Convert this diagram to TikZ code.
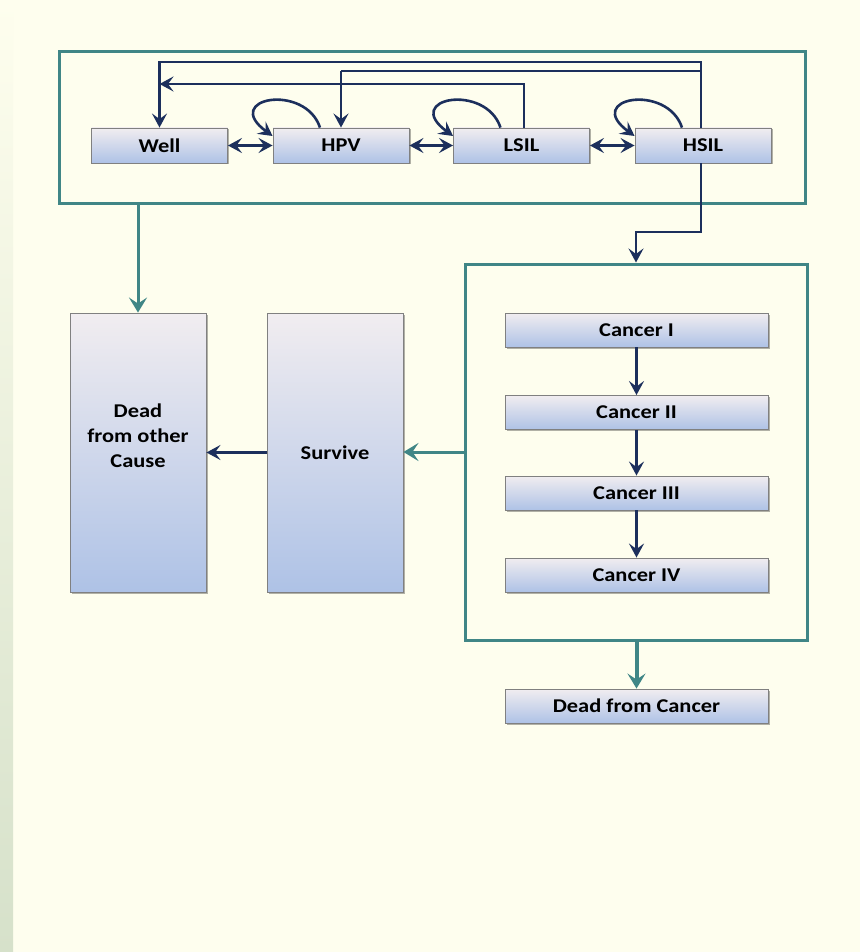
\documentclass[tikz,border=0pt]{standalone}
\usepackage{fontspec}
\setmainfont{Carlito}[FakeStretch=1.15]
\usepackage{tikz}
\usetikzlibrary{arrows.meta, positioning, calc, shadows}
\definecolor{bgc}{HTML}{FEFEEE}
\definecolor{lfc}{HTML}{D6E1CA}
\definecolor{tlc}{HTML}{408686}
\definecolor{nvc}{HTML}{1C2F5C}
\definecolor{bxt}{HTML}{F1EDF0}
\definecolor{bxb}{HTML}{AEC2E6}

\begin{document}
\begin{tikzpicture}[x=1pt, y=-1pt,
          >={Stealth[length=14pt, width=15pt, inset=5.5pt]},
          state/.style={draw=black!50, line width=0.9pt, top color=bxt,
            bottom color=bxb, minimum width=136pt, minimum height=35pt,
            inner sep=0pt, align=center,
            font=\bfseries\fontsize{19.5}{25}\selectfont,
            drop shadow={shadow xshift=1.5pt, shadow yshift=-1.5pt,
              opacity=0.3, fill=black}},
          stage/.style={state, minimum width=263pt, minimum height=34pt},
          tall/.style={state, minimum height=279pt},
          frame/.style={draw=tlc, line width=3pt, inner sep=0pt},
          nv/.style={nvc, line width=2.6pt},
          tl/.style={tlc, line width=3pt,
            -{Stealth[length=15pt, width=18pt, inset=6pt]}}]
        \useasboundingbox (0,0) rectangle (860,952);
        \fill[bgc] (0,0) rectangle (860,952);
        \shade[top color=bgc, bottom color=lfc] (0,0) rectangle (13,952);

        \node[frame, minimum width=746pt, minimum height=151pt] (top) at (432,127.5) {};
        \node[frame, minimum width=342pt, minimum height=376pt] (cbox) at (636,452) {};

        \foreach \n/\x/\t in {well/159.5/Well, hpv/341/HPV, lsil/521.5/LSIL, hsil/703/HSIL}{
          \node[state] (\n) at (\x,145.5) {\t};
        }
        \foreach \n/\y/\t in {c1/330/Cancer I, c2/412.5/Cancer II, c3/493/Cancer III,
                              c4/575/Cancer IV, deadc/706/Dead from Cancer}{
          \node[stage] (\n) at (636.5,\y) {\t};
        }
        \node[tall] (deado) at (138,452.5) {Dead\\from other\\Cause\\[8pt]};
        \node[tall] (surv) at (335,452.5) {Survive};

        \coordinate (y1) at (0,62);
        \coordinate (y2) at (0,71);
        \coordinate (y3) at (0,84);
        \coordinate (y4) at (0,232);

        \draw[<->, nv] (well) -- (hpv);
        \draw[<->, nv] (hpv) -- (lsil);
        \draw[<->, nv] (lsil) -- (hsil);
        \foreach \n in {hpv, lsil, hsil}{
          \draw[->, nv] ([xshift=-21pt]\n.north) .. controls +(-15,-45) and +(-52,-38)
            .. ([yshift=9.5pt]\n.west);
        }
        \draw[->, nv] ([xshift=-2pt]hsil.north) |- (well.north |- y1) -- (well.north);
        \draw[nv] ([xshift=-2pt]hsil.north) |- (hpv.north |- y2);
        \draw[->, nv] (hpv.north |- y2) -- (hpv.north);
        \draw[->, nv] ([xshift=2.5pt]lsil.north) |- (well.north |- y3);
        \draw[->, nv] ([xshift=-2pt]hsil.south) |- (cbox.north |- y4) -- (cbox.north);

        \draw[tl] (top.south -| deado.north) -- (deado.north);
        \draw[tl] (cbox.west) -- (cbox.west -| surv.east);
        \draw[->, nv] (surv) -- (deado);
        \draw[->, nv] (c1) -- (c2);
        \draw[->, nv] (c2) -- (c3);
        \draw[->, nv, line width=3.2pt] (c3) -- (c4);
        \draw[tl, line width=4pt] (cbox.south -| deadc.north) -- (deadc.north);
      \end{tikzpicture}
\end{document}
